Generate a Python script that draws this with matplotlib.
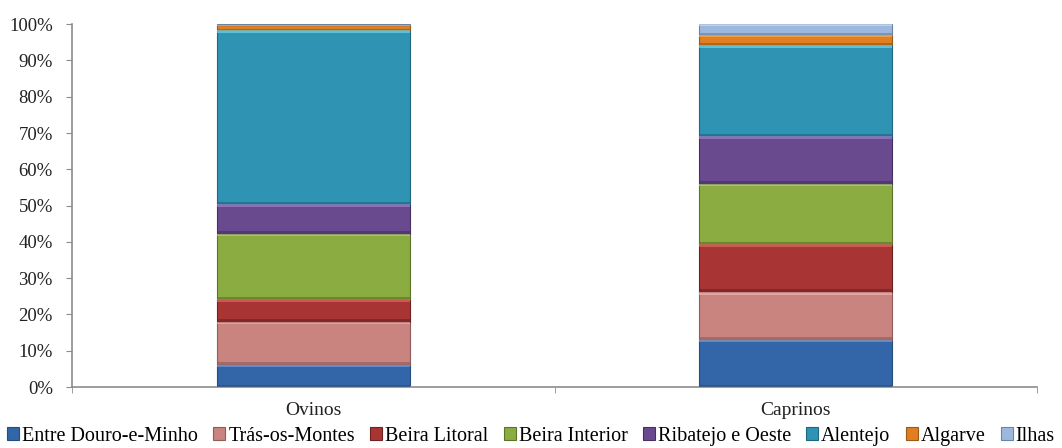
import matplotlib
matplotlib.use("Agg")
import matplotlib.pyplot as plt
from matplotlib.patches import Rectangle
from matplotlib.ticker import PercentFormatter
import numpy as np

plt.rcParams['font.family'] = ['Liberation Serif', 'DejaVu Serif']

categories = ["Ovinos", "Caprinos"]
regions = ["Entre Douro-e-Minho", "Trás-os-Montes", "Beira Litoral", "Beira Interior",
           "Ribatejo e Oeste", "Alentejo", "Algarve", "Ilhas"]
# percent share of each region, per species
ovinos = [6.2, 11.8, 6.2, 18.0, 8.2, 47.9, 1.6, 0.1]
caprinos = [13.1, 13.1, 13.1, 16.7, 13.1, 25.1, 2.9, 2.9]

colors = ["#3366a8", "#c98480", "#a83434", "#8aac40", "#694a8e", "#2f93b3", "#e07f22", "#9cb8de"]
light = ["#6fa2e6", "#f2b8b4", "#e86a66", "#b8dc6a", "#a585cf", "#6fdcf2", "#ffb25c", "#d0e4fa"]
dark = ["#244d80", "#8f5c59", "#6e2222", "#5c7428", "#463163", "#1f6680", "#9c5815", "#6a83a6"]

fig, ax = plt.subplots(figsize=(10.62, 4.48), dpi=100)
fig.subplots_adjust(left=0.068, right=0.9765, top=0.946, bottom=0.136)

x = np.arange(len(categories))
data = np.array([ovinos, caprinos])
bottom = np.zeros(len(categories))
handles = []
for i, reg in enumerate(regions):
    vals = data[:, i]
    bars = ax.bar(x, vals, 0.4, bottom=bottom, color=colors[i], edgecolor=dark[i],
                  linewidth=0.8, label=reg, zorder=2)
    # bevel look: light strip at top, darker strip at bottom of each segment
    for b in bars:
        h = b.get_height()
        if h <= 0.3:
            continue
        s = min(0.7, h * 0.2)
        ax.add_patch(Rectangle((b.get_x(), b.get_y() + h - s), b.get_width(), s,
                               facecolor=light[i], edgecolor='none', alpha=0.65, zorder=3))
        ax.add_patch(Rectangle((b.get_x(), b.get_y()), b.get_width(), s,
                               facecolor=dark[i], edgecolor='none', alpha=0.65, zorder=3))
    handles.append(bars)
    bottom += vals

ax.set_xlim(-0.5, 1.5)
ax.set_ylim(0, 100)
ax.set_yticks(np.arange(0, 101, 10))
ax.yaxis.set_major_formatter(PercentFormatter(decimals=0))
ax.set_xticks(x)
ax.set_xticklabels(categories)
ax.set_xticks([-0.5, 0.5, 1.5], minor=True)
ax.tick_params(axis='x', which='major', length=0, pad=11, labelsize=14, colors='#222222')
ax.tick_params(axis='x', which='minor', length=4, color='#8c8c8c', direction='out')
ax.tick_params(axis='y', length=4, color='#8c8c8c', pad=10, labelsize=13.5, labelcolor='#222222')

for side in ['top', 'right']:
    ax.spines[side].set_visible(False)
for side in ['left', 'bottom']:
    ax.spines[side].set_color('#8c8c8c')
    ax.spines[side].set_linewidth(1.2)

fig.legend(handles, regions, loc='lower center', bbox_to_anchor=(0.5, -0.022), ncol=8,
           frameon=False, fontsize=14.5, handlelength=0.6, handleheight=0.6,
           handletextpad=0.15, columnspacing=0.75, borderaxespad=0.2)

fig.savefig("out.png", dpi=100)
